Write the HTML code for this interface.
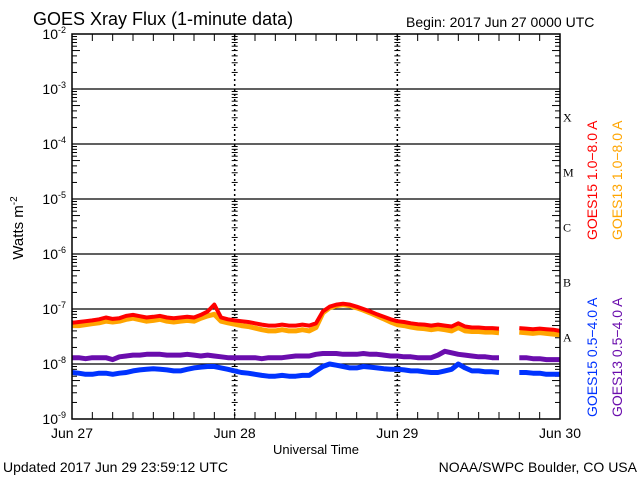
<!DOCTYPE html>
<html><head><meta charset="utf-8"><style>
body{margin:0;background:#fff}
svg{display:block;font-family:"Liberation Sans",sans-serif}
</style></head><body>
<svg id="c" width="640" height="480" viewBox="0 0 640 480">
<text x="33" y="25" font-size="18">GOES Xray Flux (1-minute data)</text>
<text x="406" y="27" font-size="14">Begin:  2017 Jun 27 0000 UTC</text>
<text x="316" y="454" font-size="13" text-anchor="middle">Universal Time</text>
<text x="3" y="472" font-size="14">Updated 2017 Jun 29 23:59:12 UTC</text>
<text x="637" y="472" font-size="14" text-anchor="end">NOAA/SWPC Boulder, CO USA</text>
<text transform="translate(23,228) rotate(-90)" font-size="15" text-anchor="middle">Watts m<tspan dy="-6" font-size="10">-2</tspan></text>
<text transform="translate(597,240) rotate(-90)" font-size="14" fill="#ff0000">GOES15 1.0−8.0 A</text>
<text transform="translate(622,240) rotate(-90)" font-size="14" fill="#ffa500">GOES13 1.0−8.0 A</text>
<text transform="translate(597,417) rotate(-90)" font-size="14" fill="#0033ff">GOES15 0.5−4.0 A</text>
<text transform="translate(622,417) rotate(-90)" font-size="14" fill="#6a0dad">GOES13 0.5−4.0 A</text>
<g id="axes"></g>
<g id="series"></g>
<rect x="72" y="34" width="488" height="385" fill="none" stroke="#000" stroke-width="1.5"/>
</svg>
<script>
const dayLabels=["Jun 27","Jun 28","Jun 29","Jun 30"];
const decadeExps=[-2,-3,-4,-5,-6,-7,-8,-9];
const classLabels=["X","M","C","B","A"];
const red=[5.6e-8,5.8e-8,6.0e-8,6.2e-8,6.5e-8,7.0e-8,6.6e-8,6.8e-8,7.5e-8,7.8e-8,7.4e-8,7.0e-8,7.2e-8,7.5e-8,7.0e-8,6.8e-8,7.0e-8,7.2e-8,7.0e-8,7.8e-8,9.0e-8,1.2e-7,7.0e-8,6.5e-8,
6.2e-8,6.0e-8,5.8e-8,5.5e-8,5.2e-8,5.0e-8,5.0e-8,5.2e-8,5.0e-8,5.0e-8,5.2e-8,5.0e-8,5.5e-8,9.0e-8,1.1e-7,1.2e-7,1.25e-7,1.2e-7,1.1e-7,1.0e-7,9.0e-8,8.0e-8,7.2e-8,6.5e-8,
6.0e-8,5.8e-8,5.5e-8,5.3e-8,5.2e-8,5.0e-8,5.2e-8,5.0e-8,4.8e-8,5.5e-8,4.8e-8,4.6e-8,4.6e-8,4.5e-8,4.5e-8,4.4e-8,null,null,4.5e-8,4.4e-8,4.3e-8,4.4e-8,4.3e-8,4.2e-8,4.0e-8];
const orange=[5.0e-8,5.0e-8,5.2e-8,5.4e-8,5.6e-8,6.0e-8,5.8e-8,6.0e-8,6.5e-8,6.8e-8,6.4e-8,6.0e-8,6.2e-8,6.5e-8,6.0e-8,5.8e-8,6.0e-8,6.2e-8,6.0e-8,6.8e-8,7.5e-8,8.0e-8,6.0e-8,5.6e-8,
5.3e-8,5.0e-8,4.8e-8,4.5e-8,4.2e-8,4.0e-8,4.0e-8,4.2e-8,4.0e-8,4.0e-8,4.2e-8,4.0e-8,4.6e-8,8.5e-8,1.05e-7,1.15e-7,1.2e-7,1.15e-7,1.05e-7,9.5e-8,8.5e-8,7.5e-8,6.6e-8,5.8e-8,
5.2e-8,5.0e-8,4.7e-8,4.5e-8,4.4e-8,4.2e-8,4.4e-8,4.2e-8,4.0e-8,4.6e-8,4.0e-8,3.9e-8,3.9e-8,3.8e-8,3.8e-8,3.7e-8,null,null,3.8e-8,3.7e-8,3.6e-8,3.7e-8,3.6e-8,3.5e-8,3.4e-8];
const purple=[1.3e-8,1.3e-8,1.25e-8,1.3e-8,1.3e-8,1.3e-8,1.2e-8,1.35e-8,1.4e-8,1.45e-8,1.45e-8,1.5e-8,1.5e-8,1.5e-8,1.45e-8,1.45e-8,1.45e-8,1.5e-8,1.45e-8,1.4e-8,1.45e-8,1.4e-8,1.35e-8,1.3e-8,
1.3e-8,1.3e-8,1.3e-8,1.3e-8,1.25e-8,1.3e-8,1.3e-8,1.3e-8,1.35e-8,1.4e-8,1.4e-8,1.4e-8,1.5e-8,1.55e-8,1.55e-8,1.55e-8,1.5e-8,1.5e-8,1.5e-8,1.55e-8,1.5e-8,1.5e-8,1.45e-8,1.4e-8,
1.4e-8,1.35e-8,1.35e-8,1.3e-8,1.3e-8,1.3e-8,1.45e-8,1.7e-8,1.6e-8,1.5e-8,1.45e-8,1.4e-8,1.35e-8,1.35e-8,1.3e-8,1.3e-8,null,null,1.3e-8,1.3e-8,1.25e-8,1.25e-8,1.2e-8,1.2e-8,1.2e-8];
const blue=[7.0e-9,6.8e-9,6.5e-9,6.5e-9,6.8e-9,6.8e-9,6.5e-9,6.8e-9,7.0e-9,7.5e-9,7.8e-9,8.0e-9,8.2e-9,8.0e-9,7.8e-9,7.5e-9,7.5e-9,8.0e-9,8.5e-9,8.8e-9,9.0e-9,9.0e-9,8.5e-9,8.0e-9,
7.5e-9,7.0e-9,6.8e-9,6.5e-9,6.2e-9,6.0e-9,6.0e-9,6.2e-9,6.0e-9,6.0e-9,6.2e-9,6.2e-9,7.5e-9,9.0e-9,1.0e-8,9.5e-9,9.0e-9,8.5e-9,8.5e-9,9.0e-9,8.8e-9,8.5e-9,8.2e-9,8.0e-9,
8.0e-9,7.8e-9,7.5e-9,7.5e-9,7.2e-9,7.0e-9,7.0e-9,7.5e-9,8.0e-9,1.0e-8,8.5e-9,7.5e-9,7.5e-9,7.2e-9,7.2e-9,7.0e-9,null,null,7.0e-9,7.0e-9,6.8e-9,6.8e-9,6.5e-9,6.5e-9,6.5e-9];

const NS="http://www.w3.org/2000/svg";
const X0=72,X1=560,YTOP=34,YBOT=419;
function xScale(h){return X0+(X1-X0)*h/72;}
function yScale(v){return YBOT-(Math.log10(v)+9)*(YBOT-YTOP)/7;}
function mk(tag,attrs,parent){const e=document.createElementNS(NS,tag);for(const k in attrs)e.setAttribute(k,attrs[k]);parent.appendChild(e);return e;}
const ax=document.getElementById('axes');
// grid lines & y labels
decadeExps.forEach(e=>{
  const y=yScale(Math.pow(10,e));
  if(e<-2&&e>-9){const l=mk('line',{x1:X0,x2:X1,y1:y,y2:y,stroke:'#000','stroke-width':1.2},ax);
    
    }
  const t=mk('text',{x:66,y:y+5,'font-size':14,'text-anchor':'end'},ax);
  
  
  t.innerHTML='10<tspan dy="-6" font-size="9">'+e+'</tspan>';
  if(e>-9){for(let m=2;m<=9;m++){const yy=yScale(m*Math.pow(10,e-1));
    const len=m===5?8:5;
    [[X0,X0+len],[X1-len,X1]].forEach(p=>mk('line',{x1:p[0],x2:p[1],y1:yy,y2:yy,stroke:'#000','stroke-width':1},ax));
    [0,1,2].forEach(d=>{const xd=xScale(24*(d+1));if(d<2)mk('line',{x1:xd-3,x2:xd+3,y1:yy,y2:yy,stroke:'#000','stroke-width':1},ax);});
  }}
});
// day verticals and x labels
dayLabels.forEach((d,i)=>{
  const x=xScale(i*24);
  const t=mk('text',{x:x,y:438,'font-size':14,'text-anchor':'middle'},ax);
  t.textContent=d;
  
  
  if(i>0&&i<3){const l=mk('line',{x1:x,x2:x,y1:YTOP,y2:YBOT,stroke:'#000','stroke-width':1.5,'stroke-dasharray':'2,3'},ax);
    
    }
});
for(let h=3;h<72;h+=3){const x=xScale(h);
  mk('line',{x1:x,x2:x,y1:YBOT,y2:YBOT-7,stroke:'#000','stroke-width':1},ax);
  mk('line',{x1:x,x2:x,y1:YTOP,y2:YTOP+7,stroke:'#000','stroke-width':1},ax);}
// class labels
classLabels.forEach((c,i)=>{
  const y=yScale(Math.pow(10,-3.5-i));
  const t=mk('text',{x:563,y:y+5,'font-size':12,'font-family':'Liberation Serif,serif'},ax);
  t.textContent=c;
  
  
});
// series
const sg=document.getElementById('series');
function draw(arr,color,w,name){
  let d='',pen=false;
  arr.forEach((v,h)=>{if(v==null){pen=false;return;}
    d+=(pen?'L':'M')+xScale(h).toFixed(1)+' '+yScale(v).toFixed(1)+' ';pen=true;});
  const p=mk('path',{d:d,fill:'none',stroke:color,'stroke-width':w,'stroke-linejoin':'round'},sg);
  
  
}
draw(blue,'#0033ff',5,'series-goes15-short');
draw(purple,'#6a0dad',5,'series-goes13-short');
draw(orange,'#ffa500',5,'series-goes13-long');
draw(red,'#ff0000',4,'series-goes15-long');
</script>
</body></html>
